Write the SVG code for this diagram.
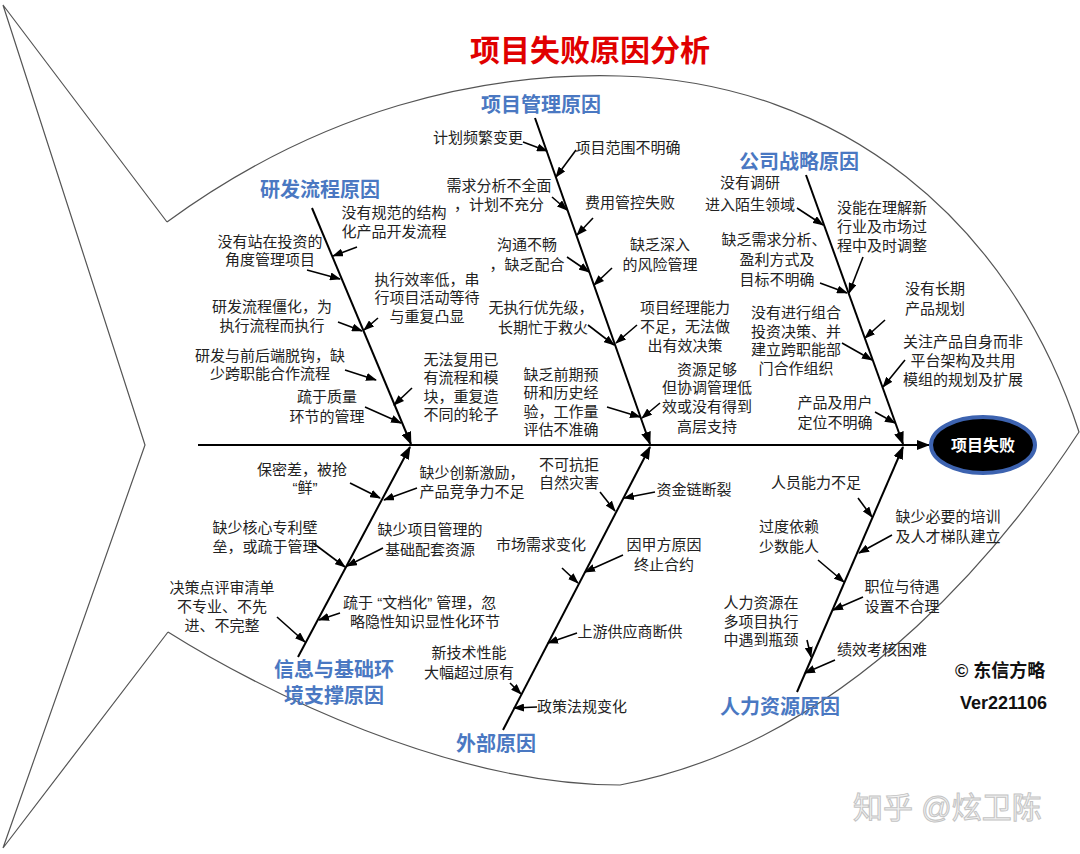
<svg xmlns="http://www.w3.org/2000/svg" width="1080" height="854" viewBox="0 0 1080 854">
<defs>
<marker id="ah" markerUnits="userSpaceOnUse" markerWidth="11" markerHeight="8" refX="10" refY="4" orient="auto"><path d="M0,0 L11,4 L0,8 z" fill="#000"/></marker>
<marker id="bh" markerUnits="userSpaceOnUse" markerWidth="13" markerHeight="10" refX="12" refY="5" orient="auto"><path d="M0,0 L13,5 L0,10 z" fill="#000"/></marker>
<style>
text{font-family:"Liberation Sans","Noto Sans CJK SC",sans-serif;}
.t{font-size:15px;fill:#222;text-anchor:middle;}
.ts{font-size:15px;fill:#222;}
.b{font-size:20px;font-weight:bold;fill:#4a78c2;text-anchor:middle;}
.sub{stroke:#000;stroke-width:1.6;fill:none;marker-end:url(#ah);}
.bone{stroke:#000;stroke-width:2;fill:none;marker-end:url(#bh);}
</style>
</defs>
<rect width="1080" height="854" fill="#fff"/>
<g id="outline" fill="none" stroke="#555" stroke-width="1.2">
<path d="M167,222 C320,110 480,72 620,76 C840,82 1010,220 1079,432 C1018,525 860,740 620,785 C450,785 260,690 168,632"/>
<path d="M3,5 L167,222 M3,5 L145,445 L3,848 M168,632 L3,848"/>
</g>
<text id="title" x="590" y="61" font-size="30" font-weight="bold" fill="#e00000" text-anchor="middle">项目失败原因分析</text>
<g id="connectors">
<line x1="198" y1="445" x2="929" y2="445" stroke="#000" stroke-width="2" marker-end="url(#bh)"/>
<line class="bone" x1="312" y1="208" x2="411" y2="444"/>
<line class="bone" x1="535" y1="118" x2="650" y2="444"/>
<line class="bone" x1="806" y1="175" x2="903" y2="444"/>
<line class="bone" x1="298" y1="657" x2="410" y2="447"/>
<line class="bone" x1="503" y1="730" x2="650" y2="447"/>
<line class="bone" x1="797" y1="692" x2="903" y2="447"/>
<line class="sub" x1="357" y1="247" x2="333" y2="256"/>
<line class="sub" x1="307" y1="270" x2="340" y2="279"/>
<line class="sub" x1="378" y1="318" x2="364" y2="330"/>
<line class="sub" x1="338" y1="322" x2="362" y2="331"/>
<line class="sub" x1="345" y1="370" x2="376" y2="380"/>
<line class="sub" x1="412" y1="388" x2="394" y2="405"/>
<line class="sub" x1="365" y1="407" x2="401" y2="423"/>
<line class="sub" x1="523" y1="142" x2="547" y2="151"/>
<line class="sub" x1="576" y1="150" x2="556" y2="177"/>
<line class="sub" x1="552" y1="197" x2="567" y2="210"/>
<line class="sub" x1="593" y1="218" x2="577" y2="235"/>
<line class="sub" x1="567" y1="257" x2="589" y2="272"/>
<line class="sub" x1="612" y1="268" x2="594" y2="285"/>
<line class="sub" x1="588" y1="325" x2="614" y2="345"/>
<line class="sub" x1="637" y1="325" x2="616" y2="343"/>
<line class="sub" x1="607" y1="407" x2="640" y2="417"/>
<line class="sub" x1="660" y1="403" x2="642" y2="418"/>
<line class="sub" x1="797" y1="208" x2="823" y2="225"/>
<line class="sub" x1="863" y1="257" x2="849" y2="293"/>
<line class="sub" x1="820" y1="283" x2="847" y2="293"/>
<line class="sub" x1="885" y1="320" x2="865" y2="338"/>
<line class="sub" x1="842" y1="343" x2="872" y2="360"/>
<line class="sub" x1="905" y1="360" x2="883" y2="387"/>
<line class="sub" x1="875" y1="412" x2="895" y2="423"/>
<line class="sub" x1="350" y1="483" x2="380" y2="498"/>
<line class="sub" x1="417" y1="488" x2="384" y2="500"/>
<line class="sub" x1="313" y1="543" x2="345" y2="567"/>
<line class="sub" x1="383" y1="548" x2="347" y2="566"/>
<line class="sub" x1="277" y1="617" x2="305" y2="642"/>
<line class="sub" x1="340" y1="613" x2="319" y2="620"/>
<line class="sub" x1="600" y1="492" x2="615" y2="511"/>
<line class="sub" x1="655" y1="492" x2="624" y2="498"/>
<line class="sub" x1="562" y1="568" x2="578" y2="583"/>
<line class="sub" x1="623" y1="555" x2="585" y2="572"/>
<line class="sub" x1="577" y1="633" x2="548" y2="643"/>
<line class="sub" x1="510" y1="683" x2="521" y2="694"/>
<line class="sub" x1="537" y1="707" x2="514" y2="708"/>
<line class="sub" x1="858" y1="498" x2="872" y2="517"/>
<line class="sub" x1="892" y1="535" x2="859" y2="553"/>
<line class="sub" x1="818" y1="560" x2="844" y2="582"/>
<line class="sub" x1="863" y1="597" x2="833" y2="610"/>
<line class="sub" x1="807" y1="640" x2="811" y2="657"/>
<line class="sub" x1="835" y1="660" x2="805" y2="673"/>
</g>
<g id="effect">
<ellipse cx="983" cy="445" rx="52" ry="28" fill="#000" stroke="#3d63b0" stroke-width="4"/>
<text x="983" y="451" font-size="16" font-weight="bold" fill="#fff" text-anchor="middle">项目失败</text>
</g>
<g id="cat-rd">
<text class="b" x="320" y="197">研发流程原因</text>
<text class="t" x="394" y="218">没有规范的结构</text><text class="t" x="394" y="237">化产品开发流程</text>
<text class="t" x="270" y="247">没有站在投资的</text><text class="t" x="270" y="265">角度管理项目</text>
<text class="t" x="427" y="285">执行效率低，串</text><text class="t" x="427" y="303">行项目活动等待</text><text class="t" x="427" y="322">与重复凸显</text>
<text class="t" x="272" y="312">研发流程僵化，为</text><text class="t" x="272" y="331">执行流程而执行</text>
<text class="t" x="270" y="361">研发与前后端脱钩，缺</text><text class="t" x="270" y="379">少跨职能合作流程</text>
<text class="t" x="461" y="365">无法复用已</text><text class="t" x="461" y="383">有流程和模</text><text class="t" x="461" y="402">块，重复造</text><text class="t" x="461" y="420">不同的轮子</text>
<text class="t" x="327" y="402">疏于质量</text><text class="t" x="327" y="422">环节的管理</text>
</g>
<g id="cat-pm">
<text class="b" x="541" y="112">项目管理原因</text>
<text class="t" x="478" y="143">计划频繁变更</text>
<text class="t" x="628" y="153">项目范围不明确</text>
<text class="t" x="499" y="191">需求分析不全面</text><text class="t" x="499" y="210">，计划不充分</text>
<text class="t" x="630" y="208">费用管控失败</text>
<text class="t" x="527" y="250">沟通不畅</text><text class="t" x="527" y="270">，缺乏配合</text>
<text class="t" x="660" y="250">缺乏深入</text><text class="t" x="660" y="270">的风险管理</text>
<text class="t" x="541" y="313">无执行优先级，</text><text class="t" x="543" y="333">长期忙于救火</text>
<text class="t" x="685" y="313">项目经理能力</text><text class="t" x="685" y="332">不足，无法做</text><text class="t" x="685" y="351">出有效决策</text>
<text class="t" x="561" y="380">缺乏前期预</text><text class="t" x="561" y="398">研和历史经</text><text class="t" x="561" y="417">验，工作量</text><text class="t" x="561" y="435">评估不准确</text>
<text class="t" x="707" y="375">资源足够</text><text class="t" x="707" y="393">但协调管理低</text><text class="t" x="707" y="412">效或没有得到</text><text class="t" x="707" y="432">高层支持</text>
</g>
<g id="cat-strategy">
<text class="b" x="799" y="169">公司战略原因</text>
<text class="t" x="750" y="188">没有调研</text><text class="t" x="750" y="210">进入陌生领域</text>
<text class="t" x="882" y="213">没能在理解新</text><text class="t" x="882" y="232">行业及市场过</text><text class="t" x="882" y="251">程中及时调整</text>
<text class="t" x="774" y="245">缺乏需求分析、</text><text class="t" x="777" y="265">盈利方式及</text><text class="t" x="777" y="285">目标不明确</text>
<text class="t" x="935" y="294">没有长期</text><text class="t" x="935" y="314">产品规划</text>
<text class="t" x="796" y="318">没有进行组合</text><text class="t" x="796" y="337">投资决策、并</text><text class="t" x="796" y="355">建立跨职能部</text><text class="t" x="796" y="374">门合作组织</text>
<text class="t" x="963" y="347">关注产品自身而非</text><text class="t" x="963" y="366">平台架构及共用</text><text class="t" x="963" y="385">模组的规划及扩展</text>
<text class="t" x="835" y="408">产品及用户</text><text class="t" x="835" y="428">定位不明确</text>
</g>
<g id="cat-info">
<text class="b" x="334" y="677">信息与基础环</text><text class="b" x="334" y="703">境支撑原因</text>
<text class="t" x="302" y="475">保密差，被抢</text><text class="t" x="305" y="493">“鲜”</text>
<text class="t" x="472" y="478">缺少创新激励，</text><text class="t" x="472" y="497">产品竞争力不足</text>
<text class="t" x="265" y="533">缺少核心专利壁</text><text class="t" x="265" y="552">垒，或疏于管理</text>
<text class="t" x="430" y="535">缺少项目管理的</text><text class="t" x="430" y="555">基础配套资源</text>
<text class="t" x="222" y="593">决策点评审清单</text><text class="t" x="222" y="612">不专业、不先</text><text class="t" x="222" y="631">进、不完整</text>
<text class="ts" x="343" y="608">疏于 “文档化” 管理，忽</text><text class="ts" x="350" y="627">略隐性知识显性化环节</text>
</g>
<g id="cat-external">
<text class="b" x="496" y="751">外部原因</text>
<text class="t" x="569" y="470">不可抗拒</text><text class="t" x="569" y="488">自然灾害</text>
<text class="t" x="694" y="495">资金链断裂</text>
<text class="t" x="541" y="550">市场需求变化</text>
<text class="t" x="664" y="550">因甲方原因</text><text class="t" x="664" y="570">终止合约</text>
<text class="t" x="630" y="637">上游供应商断供</text>
<text class="t" x="469" y="658">新技术性能</text><text class="t" x="469" y="678">大幅超过原有</text>
<text class="t" x="582" y="712">政策法规变化</text>
</g>
<g id="cat-hr">
<text class="b" x="780" y="714">人力资源原因</text>
<text class="t" x="816" y="488">人员能力不足</text>
<text class="t" x="948" y="522">缺少必要的培训</text><text class="t" x="948" y="542">及人才梯队建立</text>
<text class="t" x="789" y="532">过度依赖</text><text class="t" x="789" y="552">少数能人</text>
<text class="t" x="902" y="592">职位与待遇</text><text class="t" x="902" y="612">设置不合理</text>
<text class="t" x="761" y="608">人力资源在</text><text class="t" x="761" y="627">多项目执行</text><text class="t" x="761" y="645">中遇到瓶颈</text>
<text class="t" x="882" y="655">绩效考核困难</text>
</g>
<g id="credits">
<text x="955" y="677" font-size="18" font-weight="bold" fill="#111">© 东信方略</text>
<text x="960" y="709" font-size="18" font-weight="bold" fill="#111">Ver221106</text>
<text x="853" y="818" font-size="30" fill="#f2f2f2" stroke="#c4c4c4" stroke-width="1">知乎 @炫卫陈</text>
</g>
</svg>
